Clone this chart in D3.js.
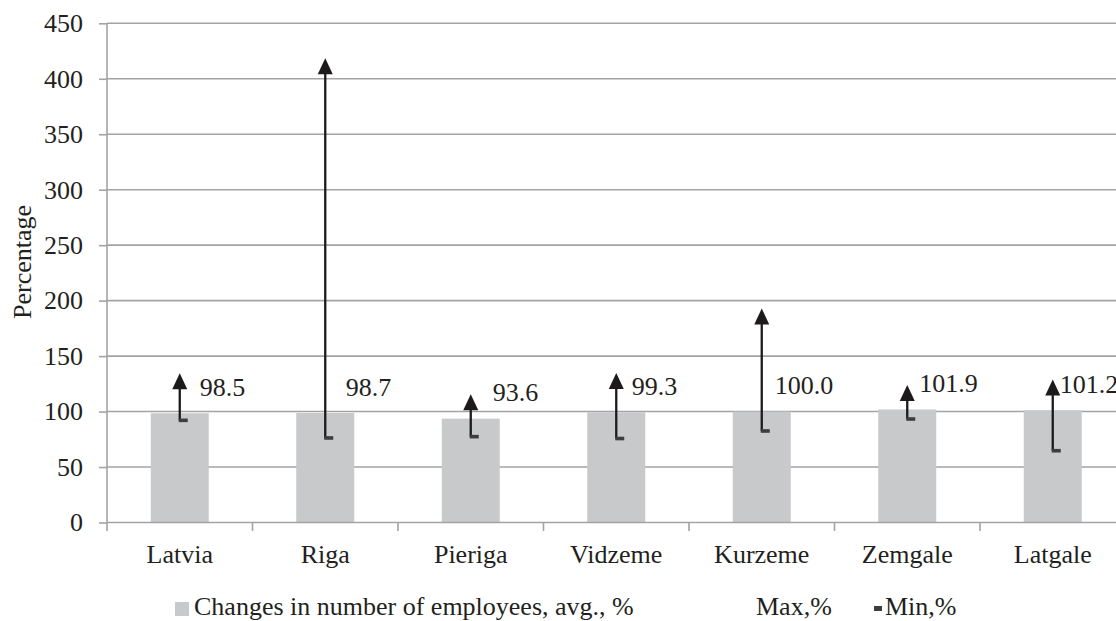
<!DOCTYPE html>
<html>
<head>
<meta charset="utf-8">
<script src="https://cdn.jsdelivr.net/npm/d3@7"></script>
<style>
  html, body { margin: 0; padding: 0; background: #fff; overflow: hidden; }
  svg { display: block; font-family: "Liberation Serif", "Times New Roman", serif; }
</style>
</head>
<body>
<svg id="chart" width="1116" height="621"></svg>
<script>
// ---- data ----
const categories = ["Latvia", "Riga", "Pieriga", "Vidzeme", "Kurzeme", "Zemgale", "Latgale"];
const avgValues  = [98.5, 98.7, 93.6, 99.3, 100.0, 101.9, 101.2];
const maxValues  = [134.5, 418.5, 115.6, 134.8, 193, 124, 129];
const minValues  = [92.1, 76.2, 77.4, 75.7, 82.5, 93.3, 64.7];
const yTicks     = [0, 50, 100, 150, 200, 250, 300, 350, 400, 450];
const legendLabels = ["Changes in number of employees, avg., %", "Max,%", "Min,%"];
const yTitle = "Percentage";

// ---- layout ----
(function () {
const svg = d3.select("#chart");
const plotL = 107, plotR = 1125.5, plotT = 23.3, plotB = 522.5;
const fontSize = 26;
const gridColor = "#a3a3a3";
const barColor = "#c8c9cb";
const arrowColor = "#1c1a1b";
const labelNudge = [20, 20.5, 22, 15.5, 13, 12, 7];

const xc = d3.scaleBand().domain(categories).range([plotL, plotR]);
const y = d3.scaleLinear().domain([0, 450]).range([plotB, plotT]);

// gridlines
svg.append("g").selectAll("line").data(yTicks.filter(d => d > 0)).join("line")
  .attr("x1", plotL).attr("x2", plotR)
  .attr("y1", d => y(d)).attr("y2", d => y(d))
  .attr("stroke", gridColor).attr("stroke-width", 1.6);

// bars
svg.append("g").selectAll("rect").data(categories).join("rect")
  .attr("x", (d) => xc(d) + xc.bandwidth() / 2 - 29)
  .attr("width", 58)
  .attr("y", (d, i) => y(avgValues[i]))
  .attr("height", (d, i) => y(0) - y(avgValues[i]))
  .attr("fill", barColor);

// y axis
const yAxis = d3.axisLeft(y).tickValues(yTicks).tickSize(8).tickPadding(16).tickSizeOuter(0);
const gy = svg.append("g").attr("transform", `translate(${plotL},0)`).call(yAxis);
gy.select(".domain").attr("stroke", gridColor).attr("stroke-width", 1.6).attr("d", `M0,${plotT}V${plotB + 8.5}`);
gy.selectAll(".tick line").attr("stroke", gridColor).attr("stroke-width", 1.6);
gy.selectAll(".tick text").attr("font-size", fontSize).attr("fill", "#231f20")
  .attr("font-family", "Liberation Serif");

// x axis
const gx = svg.append("g");
gx.append("line").attr("x1", plotL).attr("x2", plotR).attr("y1", plotB).attr("y2", plotB)
  .attr("stroke", gridColor).attr("stroke-width", 1.6);
gx.selectAll("line.tk").data(categories).join("line").attr("class", "tk")
  .attr("x1", d => xc(d) + xc.bandwidth()).attr("x2", d => xc(d) + xc.bandwidth())
  .attr("y1", plotB).attr("y2", plotB + 8.5)
  .attr("stroke", gridColor).attr("stroke-width", 1.6);
gx.selectAll("text").data(categories).join("text")
  .attr("x", d => xc(d) + xc.bandwidth() / 2)
  .attr("y", 563)
  .attr("text-anchor", "middle")
  .attr("font-size", fontSize).attr("fill", "#231f20")
  .text(d => d);

// y title
svg.append("text")
  .attr("transform", `translate(31,262) rotate(-90)`)
  .attr("text-anchor", "middle")
  .attr("font-size", fontSize).attr("fill", "#231f20")
  .text(yTitle);

// min-max arrows
const aw = 7.5, ah = 16;
const arrows = svg.append("g");
categories.forEach((c, i) => {
  const cx = xc(c) + xc.bandwidth() / 2;
  const yMax = y(maxValues[i]), yMin = y(minValues[i]);
  arrows.append("line")
    .attr("x1", cx).attr("x2", cx)
    .attr("y1", yMin).attr("y2", yMax + ah - 1)
    .attr("stroke", arrowColor).attr("stroke-width", 2.3);
  arrows.append("path")
    .attr("d", `M${cx},${yMax}L${cx + aw},${yMax + ah}L${cx - aw},${yMax + ah}Z`)
    .attr("fill", arrowColor);
  arrows.append("rect")
    .attr("x", cx - 1).attr("y", yMin - 1.8)
    .attr("width", 9).attr("height", 3.6)
    .attr("fill", "#3d3d3f");
});

// value labels
svg.append("g").selectAll("text").data(categories).join("text")
  .attr("x", (d, i) => xc(d) + xc.bandwidth() / 2 + labelNudge[i])
  .attr("y", (d, i) => y(avgValues[i]) - 17.5)
  .attr("font-size", fontSize).attr("fill", "#231f20")
  .text((d, i) => avgValues[i].toFixed(1));

// legend
const lg = svg.append("g");
lg.append("rect").attr("x", 175).attr("y", 602).attr("width", 14).attr("height", 14).attr("fill", barColor);
lg.append("text").attr("x", 194).attr("y", 615).attr("font-size", fontSize).attr("fill", "#231f20").text(legendLabels[0]);
lg.append("text").attr("x", 756).attr("y", 615).attr("font-size", fontSize).attr("fill", "#231f20").text(legendLabels[1]);
lg.append("rect").attr("x", 874).attr("y", 606).attr("width", 8).attr("height", 5).attr("fill", "#3d3d3f");
lg.append("text").attr("x", 885).attr("y", 615).attr("font-size", fontSize).attr("fill", "#231f20").text(legendLabels[2]);
})();
</script>
</body>
</html>
